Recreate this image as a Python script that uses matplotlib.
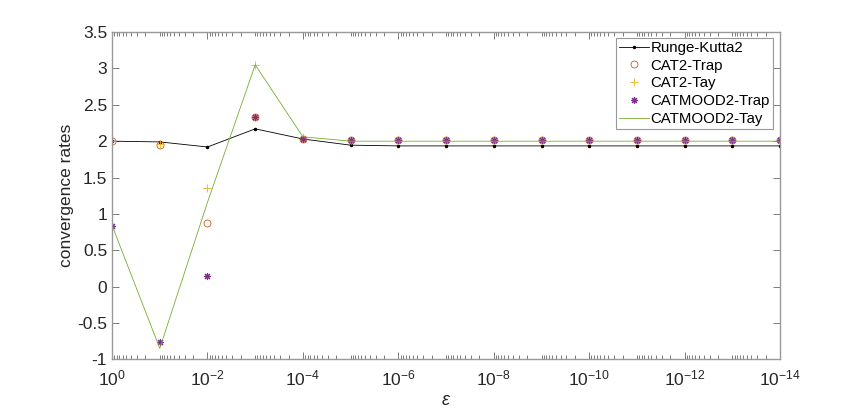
import matplotlib
matplotlib.use('Agg')
import matplotlib.pyplot as plt
import numpy as np
from matplotlib.ticker import FixedLocator, LogFormatterMathtext, NullFormatter

plt.rcParams['font.family'] = ['Liberation Sans', 'DejaVu Sans']
plt.rcParams['mathtext.fontset'] = 'custom'
plt.rcParams['mathtext.rm'] = 'Liberation Sans'
plt.rcParams['mathtext.it'] = 'Liberation Sans:italic'

# data
eps = 10.0 ** -np.arange(15)
rk2 = [2.0, 1.99, 1.92, 2.17, 2.03, 1.945, 1.935, 1.935, 1.935, 1.935, 1.935, 1.935, 1.935, 1.935, 1.935]
cat2_trap = [2.0, 1.95, 0.88, 2.33, 2.03, 2.01, 2.01, 2.01, 2.01, 2.01, 2.01, 2.01, 2.01, 2.01, 2.01]
cat2_tay = [2.0, 1.96, 1.36, 3.05, 2.06, 2.01, 2.01, 2.01, 2.01, 2.01, 2.01, 2.01, 2.01, 2.01, 2.01]
catmood2_trap = [0.84, -0.76, 0.15, 2.33, 2.03, 2.01, 2.01, 2.01, 2.01, 2.01, 2.01, 2.01, 2.01, 2.01, 2.01]
catmood2_tay = [0.84, -0.85, 1.16, 3.05, 2.06, 2.0, 2.0, 2.0, 2.0, 2.0, 2.0, 2.0, 2.0, 2.0, 2.0]

fig = plt.figure(figsize=(8.62, 4.12), dpi=100)
ax = fig.add_axes([0.13, 0.128, 0.775, 0.794])

ax.plot(eps, rk2, color='black', lw=0.6, marker='.', ms=3, label='Runge-Kutta2')
ax.plot(eps, cat2_trap, ls='none', marker='o', ms=5, mfc='none', mec='#D95319', mew=0.6, label='CAT2-Trap')
ax.plot(eps, cat2_tay, ls='none', marker='+', ms=6, mec='#EDB120', mew=0.6, label='CAT2-Tay')
ax.plot(eps, catmood2_trap, ls='none', marker=(8, 2, 0), ms=5, mec='#7E2F8E', mew=0.8, label='CATMOOD2-Trap')
ax.plot(eps, catmood2_tay, color='#77AC30', lw=0.6, label='CATMOOD2-Tay')

ax.set_xscale('log')
ax.set_xlim(1, 1e-14)
ax.set_ylim(-1, 3.5)
ax.set_xticks(10.0 ** -np.arange(0, 15, 2))
ax.xaxis.set_major_formatter(LogFormatterMathtext())
minor = [m * 10.0 ** k for k in range(-14, 0) for m in range(1, 10)]
ax.xaxis.set_minor_locator(FixedLocator(minor))
ax.xaxis.set_minor_formatter(NullFormatter())
ax.set_yticks(np.arange(-1, 3.51, 0.5))
ax.set_yticklabels(['-1', '-0.5', '0', '0.5', '1', '1.5', '2', '2.5', '3', '3.5'])

for s in ax.spines.values():
    s.set_color('0.6')
    s.set_linewidth(1.0)
ax.tick_params(which='both', direction='in', top=True, right=True, color='0.4',
               labelsize=12.5, labelcolor='#262626')
ax.tick_params(which='major', length=5, width=0.6)
ax.tick_params(which='minor', length=3, width=0.6)
ax.tick_params(axis='x', which='major', pad=7)

ax.set_xlabel(r'$\varepsilon$', fontsize=13, color='#262626', labelpad=2)
ax.set_ylabel('convergence rates', fontsize=12.5, color='#262626', labelpad=2)

leg = ax.legend(loc='upper right', bbox_to_anchor=(0.9895, 0.9826), fontsize=10.8, frameon=True,
                fancybox=False, edgecolor='0.6', framealpha=1, handlelength=2.0,
                borderpad=0.2, labelspacing=0.25, handletextpad=0.1, borderaxespad=0.0)
leg.get_frame().set_linewidth(0.8)

fig.savefig('out.png', dpi=100)
